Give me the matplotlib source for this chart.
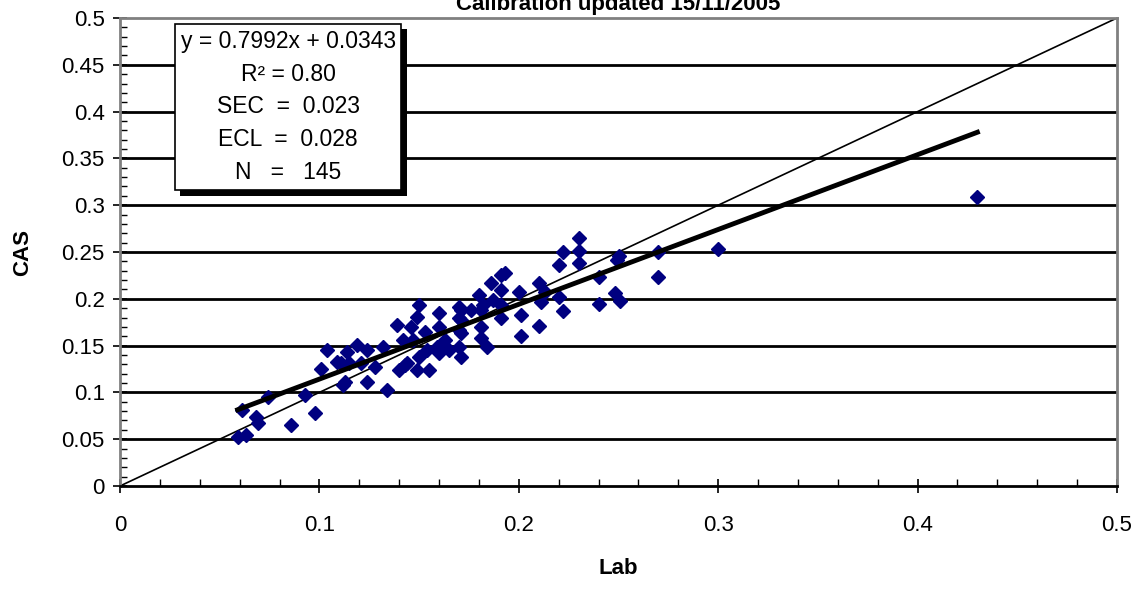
import numpy as np
import matplotlib.pyplot as plt
from matplotlib import patheffects as pe
from matplotlib.ticker import MultipleLocator

plt.rcParams['font.family'] = ['Liberation Sans', 'DejaVu Sans']

# lab reference values vs CAS predictions
lab = [0.059, 0.063, 0.061, 0.068, 0.069, 0.074, 0.086, 0.093, 0.098, 0.101,
       0.104, 0.109, 0.113, 0.114, 0.115, 0.119, 0.121, 0.124, 0.124, 0.128,
       0.134, 0.132, 0.139, 0.140, 0.142, 0.143, 0.146, 0.147, 0.149, 0.150,
       0.149, 0.150, 0.153, 0.154, 0.155, 0.160, 0.160, 0.159, 0.160, 0.165,
       0.163, 0.170, 0.170, 0.170, 0.170, 0.171, 0.176, 0.180, 0.181, 0.181,
       0.181, 0.184, 0.186, 0.187, 0.191, 0.193, 0.191, 0.191, 0.191, 0.182,
       0.200, 0.201, 0.201, 0.210, 0.211, 0.210, 0.213, 0.220, 0.222, 0.220,
       0.222, 0.230, 0.230, 0.230, 0.240, 0.240, 0.248, 0.251, 0.250, 0.249,
       0.270, 0.270, 0.300, 0.430, 0.111, 0.112, 0.144, 0.171, 0.171, 0.171]
cas = [0.052, 0.054, 0.081, 0.074, 0.067, 0.095, 0.065, 0.097, 0.078, 0.125,
       0.145, 0.132, 0.111, 0.143, 0.131, 0.151, 0.131, 0.111, 0.145, 0.127,
       0.103, 0.149, 0.172, 0.124, 0.156, 0.129, 0.170, 0.156, 0.124, 0.193,
       0.181, 0.138, 0.165, 0.145, 0.124, 0.185, 0.170, 0.149, 0.142, 0.145,
       0.156, 0.191, 0.179, 0.167, 0.149, 0.138, 0.188, 0.204, 0.188, 0.170,
       0.158, 0.149, 0.217, 0.199, 0.225, 0.228, 0.209, 0.193, 0.179, 0.193,
       0.207, 0.183, 0.160, 0.217, 0.197, 0.171, 0.207, 0.236, 0.250, 0.202,
       0.187, 0.265, 0.251, 0.238, 0.223, 0.194, 0.206, 0.198, 0.246, 0.241,
       0.250, 0.223, 0.253, 0.309, 0.131, 0.108, 0.131, 0.188, 0.177, 0.163]

slope, intercept = 0.7992, 0.0343
stats = ["y = 0.7992x + 0.0343", "R² = 0.80", "SEC  =  0.023",
         "ECL  =  0.028", "N   =   145"]

fig = plt.figure(figsize=(11.41, 5.92), dpi=100)
ax = fig.add_axes([120/1141, 106/592, 997/1141, 468/592])

ax.set_xlim(0, 0.5)
ax.set_ylim(0, 0.5)

# horizontal gridlines
for yv in np.arange(0.05, 0.5, 0.05):
    ax.axhline(yv, color='black', lw=2, zorder=1)

# 1:1 line
ax.plot([0, 0.5], [0, 0.5], color='black', lw=1.2, zorder=2)

ax.plot(lab, cas, 'D', color='#000080', ms=7, mec='#000080', zorder=3)

xf = np.array([min(lab), max(lab)])
ax.plot(xf, slope * xf + intercept, color='black', lw=3.5, zorder=4)

ax.xaxis.set_minor_locator(MultipleLocator(0.02))
ax.yaxis.set_minor_locator(MultipleLocator(0.01))
ax.set_xticks([0, 0.1, 0.2, 0.3, 0.4, 0.5])
ax.set_xticklabels(['0', '0.1', '0.2', '0.3', '0.4', '0.5'])
ax.set_yticks(np.arange(0, 0.51, 0.05))
ax.set_yticklabels(['0', '0.05', '0.1', '0.15', '0.2', '0.25', '0.3', '0.35',
                    '0.4', '0.45', '0.5'])
ax.tick_params(axis='both', which='major', direction='inout', length=10,
               width=1.2, labelsize=16)
ax.tick_params(axis='both', which='minor', direction='in', length=5, width=1)
ax.tick_params(axis='x', pad=16)
ax.tick_params(axis='y', pad=6)

for s in ax.spines.values():
    s.set_color('#808080')
    s.set_linewidth(2)
ax.spines['bottom'].set_color('black')

ax.set_xlabel('Lab', fontsize=16, fontweight='bold', labelpad=16)
ax.set_ylabel('CAS', fontsize=16, fontweight='bold', labelpad=20)

fig.text(618/1141, 1 - 10/592, 'Calibration updated 15/11/2005',
         ha='center', va='baseline', fontsize=16, fontweight='bold')

t = ax.text(0.0843, 0.405, "\n".join(stats), ha='center', va='center',
            multialignment='center', fontsize=16.5, linespacing=1.55,
            zorder=6,
            bbox=dict(boxstyle='square,pad=0.25', fc='white', ec='black',
                      lw=1.2))
t.get_bbox_patch().set_path_effects([
    pe.SimplePatchShadow(offset=(4, -4), shadow_rgbFace='black', alpha=1),
    pe.Normal()])

fig.savefig('out.png', dpi=100)
